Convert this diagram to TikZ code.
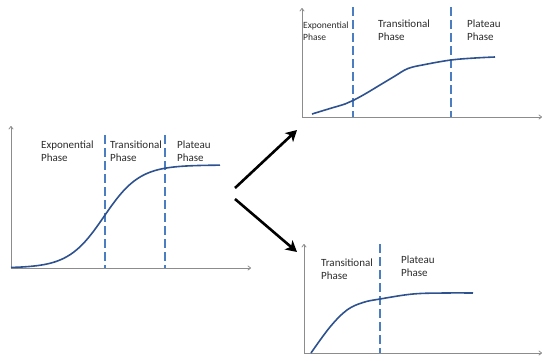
\documentclass[tikz,border=0pt]{standalone}
\usepackage{fontspec}
\setmainfont{Carlito}
\usetikzlibrary{arrows.meta}
\definecolor{curveblue}{HTML}{2E528F}
\definecolor{dashblue}{HTML}{4A7EC0}
\definecolor{axisgrey}{HTML}{8C8C8C}
\definecolor{txt}{HTML}{2B2B2B}
\tikzset{
  axis/.style={draw=axisgrey, line width=0.8pt, -{To[length=3.5pt,width=5pt]}},
  growth/.style={draw=curveblue, line width=1.6pt},
  phaseline/.style={draw=dashblue, line width=2.2pt, dash pattern=on 9pt off 4pt},
  lbl/.style={anchor=north west, inner sep=0pt, align=left, text=txt, font=\fontsize{11}{13}\selectfont},
  smalllbl/.style={lbl, font=\fontsize{9.5}{12}\selectfont},
  bigarrow/.style={draw=black, line width=2.6pt, -{Stealth[length=11pt,width=12pt,inset=3pt]}}
}
\begin{document}
\begin{tikzpicture}[x=1pt,y=-1pt]
\useasboundingbox (0,0) rectangle (542,360);
% ---------- left chart ----------
\coordinate (L0) at (11,268);
\coordinate (Ly) at (11,126);
\coordinate (Lx) at (251,268);
\draw[axis] (L0) -- (Ly);
\draw[axis] (L0) -- (Lx);
\coordinate (Ld1t) at (105,135); \coordinate (Ld1b) at (105,268);
\coordinate (Ld2t) at (165,135); \coordinate (Ld2b) at (165,268);
\draw[phaseline] (Ld1t) -- (Ld1b);
\draw[phaseline] (Ld2t) -- (Ld2b);
\draw[growth] plot[domain=11:220, samples=120, smooth] (\x, {268-103/(1+exp(-(\x-104)/17.8))});
\node[lbl] (Lexp) at (41,141) {Exponential\\Phase};
\node[lbl] (Ltra) at (110,141) {Transitional\\Phase};
\node[lbl] (Lpla) at (177,141) {Plateau\\Phase};
% ---------- top right chart ----------
\coordinate (T0) at (302,117);
\coordinate (Ty) at (302,8);
\coordinate (Tx) at (542,117);
\draw[axis] (T0) -- (Ty);
\draw[axis] (T0) -- (Tx);
\coordinate (Td1t) at (353,7); \coordinate (Td1b) at (353,117);
\coordinate (Td2t) at (451,7); \coordinate (Td2b) at (451,117);
\draw[phaseline] (Td1t) -- (Td1b);
\draw[phaseline] (Td2t) -- (Td2b);
\draw[growth] plot[smooth, tension=0.6] coordinates {(312,114) (330,108.5) (345,104) (353,100.5) (365,94) (380,85) (395,76) (408,68.5) (425,64.5) (451,60) (475,58) (495,57)};
\node[smalllbl] (Texp) at (303,22) {Exponential\\Phase};
\node[lbl] (Ttra) at (378,20) {Transitional\\Phase};
\node[lbl] (Tpla) at (467,20) {Plateau\\Phase};
% ---------- bottom right chart ----------
\coordinate (B0) at (304,353);
\coordinate (By) at (304,244);
\coordinate (Bx) at (542,353);
\draw[axis] (B0) -- (By);
\draw[axis] (B0) -- (Bx);
\coordinate (Bd1t) at (380,244); \coordinate (Bd1b) at (380,353);
\draw[phaseline] (Bd1t) -- (Bd1b);
\draw[growth] plot[smooth, tension=0.6] coordinates {(311,353) (330,327) (347,310) (363,302.5) (380,299) (413,294) (445,293) (473,293)};
\node[lbl] (Btra) at (321,259) {Transitional\\Phase};
\node[lbl] (Bpla) at (401,256) {Plateau\\Phase};
% ---------- arrows ----------
\coordinate (A1s) at (235,188); \coordinate (A1e) at (297,130);
\coordinate (A2s) at (235,199); \coordinate (A2e) at (297,252);
\draw[bigarrow] (A1s) -- (A1e);
\draw[bigarrow] (A2s) -- (A2e);
\end{tikzpicture}
\end{document}
